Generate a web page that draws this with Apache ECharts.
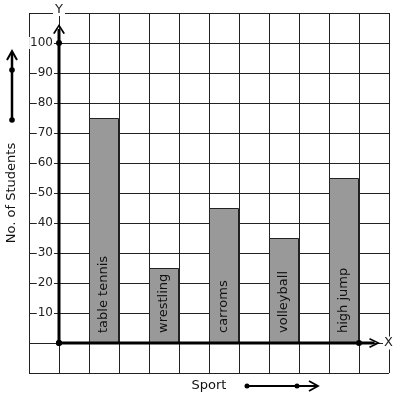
<!DOCTYPE html>
<html>
<head>
<meta charset="utf-8">
<script src="https://cdn.jsdelivr.net/npm/echarts@6/dist/echarts.min.js"></script>
<style>
  html, body { margin: 0; padding: 0; background: #fff; }
  #chart { width: 397px; height: 399px; }
</style>
</head>
<body>
<div id="chart"></div>
<script>
// data
var sports = ['table tennis', 'wrestling', 'carroms', 'volleyball', 'high jump'];
var students = [75, 25, 45, 35, 55];
var yTicks = [10, 20, 30, 40, 50, 60, 70, 80, 90, 100];

var FONT = 'DejaVu Sans';
var INK = '#222';

// open arrow heads
var upHead = 'path://M0,10 L5,0 L10,10 L8.6,10.8 L5,3.2 L1.4,10.8 Z';
var rightHead = 'path://M0,1.4 L0.8,0 L11,5 L0.8,10 L0,8.6 L7.8,5 Z';

// each sport sits in every second cell, right of the y axis
var barData = students.map(function (v, i) {
    return { value: [1.5 + 2 * i, v], name: sports[i] };
});

var chart = echarts.init(document.getElementById('chart'));

chart.setOption({
    animation: false,
    backgroundColor: '#fff',
    grid: { left: 29, right: 8, top: 13, bottom: 26, outerBoundsMode: 'none', containLabel: false },
    xAxis: {
        type: 'value',
        min: -1,
        max: 11,
        interval: 1,
        name: 'X',
        nameLocation: 'end',
        nameGap: -6,
        nameTextStyle: { fontFamily: FONT, fontSize: 13, color: INK, backgroundColor: '#fff', padding: [0, 1] },
        axisLine: { show: false, onZero: true },
        axisTick: { show: false },
        axisLabel: { show: false },
        splitLine: { show: true, lineStyle: { color: INK, width: 1 } }
    },
    yAxis: {
        type: 'value',
        min: -10,
        max: 110,
        interval: 10,
        position: 'left',
        offset: -30,
        name: 'Y',
        nameLocation: 'end',
        nameGap: -3,
        nameTextStyle: { fontFamily: FONT, fontSize: 13, color: INK, backgroundColor: '#fff', padding: [0, 2] },
        axisLine: { show: false, onZero: false },
        axisTick: { show: false },
        axisLabel: {
            margin: 5,
            fontFamily: FONT,
            fontSize: 12,
            color: INK,
            backgroundColor: '#fff',
            padding: [0, 1],
            formatter: function (v) {
                return yTicks.indexOf(v) >= 0 ? String(v) : '';
            }
        },
        splitLine: { show: true, lineStyle: { color: INK, width: 1 } }
    },
    series: [
        {
            type: 'bar',
            barWidth: 30,
            data: barData,
            itemStyle: { color: '#999999', borderColor: INK, borderWidth: 1 },
            label: {
                show: true,
                position: 'insideBottom',
                rotate: 90,
                align: 'left',
                verticalAlign: 'middle',
                distance: 10,
                fontFamily: FONT,
                fontSize: 13,
                color: '#111',
                formatter: '{b}'
            },
            z: 2
        },
        {
            // y axis arrow
            type: 'line',
            silent: true,
            lineStyle: { color: '#000', width: 3 },
            itemStyle: { color: '#000' },
            data: [
                { value: [0, 0], symbol: 'circle', symbolSize: 6 },
                { value: [0, 100], symbol: 'circle', symbolSize: 6 },
                { value: [0, 104.7], symbol: upHead, symbolSize: [12, 10] }
            ],
            z: 5
        },
        {
            // x axis arrow
            type: 'line',
            silent: true,
            lineStyle: { color: '#000', width: 3 },
            itemStyle: { color: '#000' },
            data: [
                { value: [0, 0], symbol: 'circle', symbolSize: 6 },
                { value: [10, 0], symbol: 'circle', symbolSize: 6 },
                { value: [10.52, 0], symbol: rightHead, symbolSize: [11, 10] }
            ],
            z: 5
        }
    ],
    graphic: [
        {
            type: 'text',
            x: 12, y: 193,
            rotation: Math.PI / 2,
            style: { text: 'No. of Students', font: '13px ' + FONT, fill: '#111', align: 'center', verticalAlign: 'middle' }
        },
        { type: 'line', shape: { x1: 12, y1: 120, x2: 12, y2: 52 }, style: { stroke: '#000', lineWidth: 2.5 } },
        { type: 'circle', shape: { cx: 12, cy: 120, r: 2.8 }, style: { fill: '#000' } },
        { type: 'circle', shape: { cx: 12, cy: 70, r: 2.8 }, style: { fill: '#000' } },
        { type: 'polyline', shape: { points: [[7, 60], [12, 51], [17, 60]] }, style: { stroke: '#000', lineWidth: 2, fill: null } },
        {
            type: 'text',
            x: 209, y: 386,
            style: { text: 'Sport', font: '13px ' + FONT, fill: '#111', align: 'center', verticalAlign: 'middle' }
        },
        { type: 'line', shape: { x1: 247, y1: 386, x2: 317, y2: 386 }, style: { stroke: '#000', lineWidth: 2 } },
        { type: 'circle', shape: { cx: 247, cy: 386, r: 2.5 }, style: { fill: '#000' } },
        { type: 'circle', shape: { cx: 297, cy: 386, r: 2.5 }, style: { fill: '#000' } },
        { type: 'polyline', shape: { points: [[309, 381], [318, 386], [309, 391]] }, style: { stroke: '#000', lineWidth: 1.8, fill: null } }
    ]
});
</script>
</body>
</html>
